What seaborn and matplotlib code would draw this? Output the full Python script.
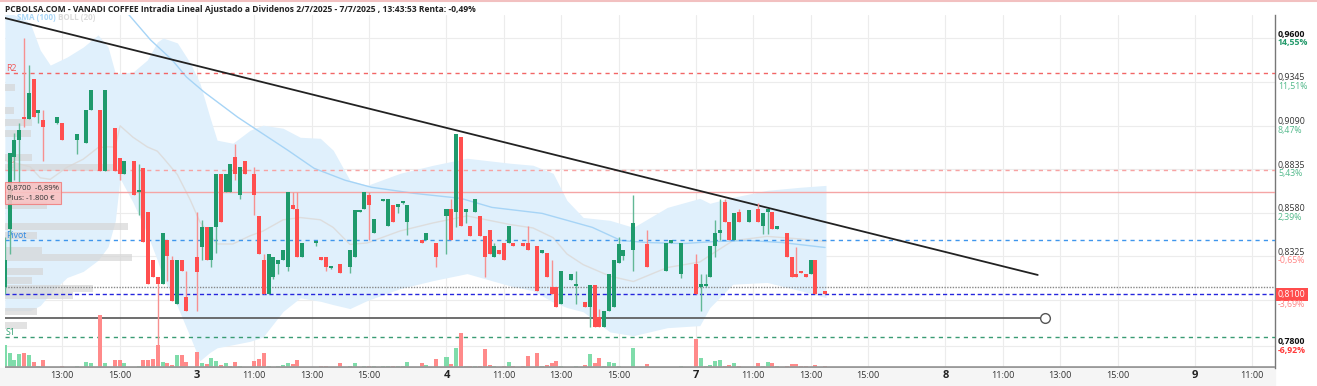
import matplotlib
matplotlib.use("Agg")
import matplotlib.pyplot as plt
import matplotlib.transforms as mtrans
import seaborn as sns
import numpy as np
import pandas as pd

# ---------------- data ----------------
c_time = ["2/7 11:00","2/7 11:10","2/7 11:20","2/7 11:30","2/7 11:40","2/7 11:50","2/7 12:00","2/7 12:10","2/7 12:20",
          "2/7 12:50","2/7 13:00","2/7 13:30","2/7 13:50","2/7 14:00","2/7 14:20","2/7 14:30","2/7 14:50","2/7 15:00",
          "2/7 15:10","2/7 15:30","2/7 15:40","2/7 15:50","2/7 16:00","2/7 16:10","2/7 16:20","2/7 16:30","2/7 16:40",
          "2/7 16:50","2/7 17:00","2/7 17:10","2/7 17:20",
          "3/7 9:00","3/7 9:10","3/7 9:20","3/7 9:30","3/7 9:40","3/7 9:50","3/7 10:00","3/7 10:10","3/7 10:20",
          "3/7 10:30","3/7 10:40","3/7 11:00","3/7 11:10","3/7 11:20","3/7 11:30","3/7 11:40","3/7 11:50","3/7 12:00",
          "3/7 12:10","3/7 12:20","3/7 12:30","3/7 12:40","3/7 13:10","3/7 13:20","3/7 13:30","3/7 13:40","3/7 14:00",
          "3/7 14:20","3/7 14:30","3/7 14:40","3/7 14:50","3/7 15:00","3/7 15:10","3/7 15:30","3/7 15:40","3/7 15:50",
          "3/7 16:00","3/7 16:10","3/7 16:20","3/7 16:50","3/7 17:00","3/7 17:20",
          "4/7 9:00","4/7 9:10","4/7 9:20","4/7 9:30","4/7 9:40","4/7 9:50","4/7 10:00","4/7 10:10","4/7 10:20",
          "4/7 10:30","4/7 10:40","4/7 10:50","4/7 11:00","4/7 11:10","4/7 11:20","4/7 11:40","4/7 11:50","4/7 12:10",
          "4/7 12:20","4/7 12:30","4/7 12:40","4/7 12:50","4/7 13:00","4/7 13:20","4/7 13:30","4/7 13:50","4/7 14:00",
          "4/7 14:10","4/7 14:20","4/7 14:30","4/7 14:40","4/7 14:50","4/7 15:00","4/7 15:10","4/7 15:30","4/7 16:00",
          "4/7 16:40","4/7 16:50","4/7 17:10",
          "7/7 9:00","7/7 9:10","7/7 9:20","7/7 9:30","7/7 9:40","7/7 9:50","7/7 10:00","7/7 10:10","7/7 10:20",
          "7/7 10:30","7/7 10:50","7/7 11:10","7/7 11:20","7/7 11:30","7/7 11:40","7/7 11:50","7/7 12:10","7/7 12:20",
          "7/7 12:30","7/7 12:40","7/7 12:50","7/7 13:00","7/7 13:10","7/7 13:30"]

c_open = [.8142,.8485,.8906,.9004,.9141,.9131,.9360,.9164,.9125,
          .9106,.9102,.9004,.8988,.9180,.9180,.8823,.9078,.8902,
          .8808,.8882,.8700,.8843,.8582,.8299,.8201,.8162,.8416,
          .8299,.8045,.8299,.8083,
          .8318,.8377,.8494,.8299,.8494,.8808,.8700,.8700,.8906,
          .8680,.8882,.8804,.8559,.8299,.8100,.8201,.8279,.8299,
          .8259,.8622,.8598,.8322,.8400,.8322,.8322,.8255,.8279,
          .8259,.8322,.8582,.8602,.8681,.8459,.8645,.8500,.8622,
          .8615,.8638,.8524,.8420,.8420,.8403,
          .8559,.8598,.8582,.9023,.8582,.8498,.8582,.8559,.8440,
          .8479,.8322,.8361,.8403,.8403,.8403,.8403,.8403,.8381,
          .8342,.8342,.8142,.8142,.8044,.8185,.8150,.8058,.8024,
          .8158,.7966,.7907,.8001,.8024,.8283,.8328,.8361,.8397,
          .8240,.8403,.8220,
          .8279,.8142,.8150,.8201,.8381,.8460,.8641,.8524,.8420,
          .8582,.8524,.8602,.8498,.8582,.8582,.8485,.8459,.8322,
          .8220,.8240,.8220,.8220,.8299,.8118]

c_high = [.8436,.8926,.9045,.9102,.9600,.9444,.9360,.9180,.9180,
          .9141,.9102,.9039,.9180,.9301,.9180,.9301,.9078,.8902,
          .8882,.8882,.8866,.8843,.8582,.8299,.8201,.8459,.8416,
          .8328,.8299,.8299,.8240,
          .8582,.8534,.8494,.8494,.8808,.8808,.8808,.8863,.8984,
          .8847,.8882,.8847,.8559,.8338,.8338,.8322,.8299,.8361,
          .8700,.8700,.8700,.8403,.8410,.8322,.8322,.8262,.8279,
          .8361,.8596,.8596,.8700,.8700,.8543,.8655,.8658,.8622,
          .8625,.8650,.8622,.8420,.8459,.8403,
          .8598,.8661,.9039,.9023,.8598,.8498,.8658,.8559,.8440,
          .8479,.8403,.8361,.8403,.8498,.8403,.8403,.8498,.8381,
          .8361,.8342,.8299,.8142,.8240,.8220,.8240,.8058,.8158,
          .8158,.8015,.8001,.8220,.8299,.8436,.8361,.8680,.8479,
          .8400,.8420,.8400,
          .8338,.8220,.8220,.8381,.8538,.8661,.8661,.8524,.8577,
          .8600,.8596,.8635,.8577,.8598,.8582,.8498,.8459,.8322,
          .8377,.8240,.8220,.8299,.8299,.8118]

c_low = [.8103,.8338,.8769,.8749,.9082,.9131,.9141,.9102,.8882,
         .9100,.9004,.8921,.8988,.9180,.8823,.8823,.8823,.8769,
         .8808,.8681,.8563,.8406,.8162,.8201,.7805,.8162,.8181,
         .8064,.8045,.8240,.8005,
         .8005,.8299,.8299,.8260,.8340,.8524,.8700,.8700,.8769,
         .8661,.8804,.8563,.8338,.8100,.8100,.8190,.8220,.8299,
         .8240,.8602,.8322,.8322,.8385,.8299,.8240,.8250,.8224,
         .8224,.8322,.8582,.8602,.8416,.8459,.8645,.8500,.8524,
         .8580,.8630,.8446,.8403,.8420,.8259,
         .8338,.8420,.8494,.8498,.8518,.8440,.8582,.8440,.8201,
         .8338,.8322,.8338,.8299,.8403,.8381,.8381,.8361,.8120,
         .8342,.8201,.8100,.8024,.8044,.8185,.8045,.8024,.7907,
         .7907,.7907,.7907,.8001,.8024,.8283,.8299,.8240,.8259,
         .8240,.8403,.8197,
         .8100,.8001,.8142,.8201,.8322,.8416,.8524,.8420,.8420,
         .8524,.8524,.8524,.8455,.8455,.8485,.8485,.8322,.8201,
         .8201,.8224,.8201,.8220,.8100,.8100]

c_close = [.8299,.8926,.9004,.9062,.9126,.9278,.9141,.9180,.9082,
           .9141,.9004,.9039,.9180,.9301,.8823,.9301,.8823,.8808,
           .8882,.8681,.8705,.8406,.8162,.8201,.8162,.8459,.8328,
           .8064,.8299,.8240,.8005,
           .8230,.8494,.8299,.8494,.8808,.8524,.8808,.8863,.8808,
           .8847,.8804,.8681,.8338,.8100,.8338,.8322,.8299,.8361,
           .8700,.8602,.8322,.8403,.8405,.8299,.8259,.8260,.8224,
           .8361,.8596,.8596,.8700,.8622,.8543,.8655,.8658,.8524,
           .8620,.8645,.8622,.8403,.8459,.8322,
           .8598,.8420,.9039,.8498,.8598,.8440,.8658,.8440,.8322,
           .8338,.8381,.8338,.8299,.8498,.8381,.8381,.8361,.8120,
           .8361,.8201,.8100,.8024,.8240,.8220,.8155,.8024,.8158,
           .7907,.7907,.8001,.8220,.8299,.8397,.8361,.8518,.8259,
           .8400,.8420,.8400,
           .8100,.8162,.8160,.8381,.8459,.8475,.8524,.8420,.8577,
           .8524,.8596,.8524,.8577,.8598,.8485,.8498,.8322,.8201,
           .8201,.8224,.8201,.8299,.8100,.8100]

c_vol = [23,15,8,14,15,13,6,2,8,
         1,2,2,6,5,53,5,8,8,
         5,1,2,8,8,9,23,6,5,
         3,13,13,6,
         16,5,4,10,7,3,5,2,6,
         2,1,7,9,15,2,1,2,3,
         5,4,8,1,1,2,2,1,5,
         2,5,1,2,2,2,2,2,2,
         2,2,6,5,3,9,
         11,4,20,35,2,2,2,2,19,
         3,2,1,2,6,2,2,12,15,
         2,3,5,7,2,1,2,3,14,
         5,10,2,6,5,2,1,20,4,
         1,1,2,
         29,10,2,3,7,8,2,3,5,
         2,1,5,2,6,5,2,2,4,
         4,2,2,1,3,2]

band_time = ["2/7 11:00","2/7 11:53","2/7 12:14","2/7 12:35","2/7 13:10","2/7 13:44","2/7 14:15","2/7 14:36",
             "2/7 14:51","2/7 15:01","2/7 15:28","2/7 15:58","2/7 16:19","2/7 16:31","2/7 17:01","2/7 17:28",
             "3/7 9:06","3/7 9:27","3/7 9:42","3/7 10:15","3/7 10:51","3/7 11:18","3/7 12:00","3/7 12:36",
             "3/7 13:18","3/7 13:45","3/7 14:20","3/7 14:56","3/7 16:05","3/7 17:14",
             "4/7 9:43","4/7 11:13","4/7 12:01","4/7 12:43","4/7 13:12","4/7 13:46","4/7 14:42","4/7 15:31","4/7 16:42",
             "7/7 9:08","7/7 9:29","7/7 10:17","7/7 11:29","7/7 12:38","7/7 13:32"]
band_upper = [.9767,.9691,.9532,.9444,.9491,.9550,.9621,.9550,
              .9397,.9397,.9403,.9474,.9579,.9603,.9574,.9456,
              .9339,.9139,.9004,.8986,.9062,.9092,.9074,.9021,
              .9015,.8945,.8769,.8739,.8810,.8857,
              .8898,.8869,.8857,.8810,.8651,.8551,.8534,.8493,.8610,
              .8663,.8634,.8669,.8710,.8728,.8739]
band_lower = [.8005,.8005,.8035,.8105,.8199,.8235,.8300,.8380,
              .8530,.8780,.8640,.8455,.8300,.8200,.8030,.7850,
              .7711,.7760,.7787,.7805,.7825,.7850,.8000,.8080,
              .8060,.8040,.8017,.8064,.8134,.8181,
              .8222,.8150,.8122,.8055,.8023,.7998,.7880,.7858,.7905,
              .7917,.8023,.8160,.8170,.8122,.8081]

sma_time = ["2/7 15:10","2/7 16:05","2/7 16:50","2/7 17:20","3/7 9:15","3/7 10:25","3/7 11:00","3/7 12:10",
            "3/7 13:05","3/7 14:10","3/7 15:05","3/7 16:35","4/7 9:30","4/7 10:35","4/7 12:20","4/7 14:05",
            "4/7 15:05","4/7 16:00","4/7 17:15","7/7 9:40","7/7 10:50","7/7 12:00","7/7 13:30"]
sma_val = [.9770,.9591,.9474,.9374,.9286,.9139,.9074,.8945,
           .8839,.8769,.8728,.8692,.8663,.8610,.8575,.8493,
           .8416,.8404,.8398,.8410,.8416,.8404,.8375]

prof_price = [.9315,.9180,.9110,.9045,.8904,.8845,.8620,.8500,.8445,.8357,.8316,.8234,.8181,.8134,.8093,.7999,.7917]
prof_vol = [10,9,27,26,27,110,42,123,32,37,127,38,27,88,68,32,22]

levels = {"R2": .9400, "R1": .8829, "Pivot": .8419, "S1": .7849}
entry_price = .8700
current_price = .8100
dotted_level = .8145
support_line = .7960
support_end = "8/7 12:28"
trend_start, trend_start_val = "2/7 11:00", .9720
trend_end, trend_end_val = "8/7 12:13", .8214

ytick_vals = [.9600, .9345, .9090, .8835, .8580, .8325, .8070, .7800]
ytick_txt = ["0,9600", "0,9345", "0,9090", "0,8835", "0,8580", "0,8325", None, "0,7800"]
ytick_pct = ["14,55%", "11,51%", "8,47%", "5,43%", "2,39%", "-0,65%", None, "-6,92%"]

title = "PCBOLSA.COM - VANADI COFFEE Intradia Lineal Ajustado a Dividenos 2/7/2025 - 7/7/2025 , 13:43:53 Renta: -0,49%"

# ---------------- helpers ----------------
DAYS = {"2/7": 0, "3/7": 1, "4/7": 2, "7/7": 3, "8/7": 4, "9/7": 5}
DAY_LEN = 8.7

def tpos(s):
    d, hm = s.split()
    h, m = hm.split(":")
    return DAYS[d] * DAY_LEN + int(h) - 9 + int(m) / 60.0

sns.set_theme(style="white")
plt.rcParams['font.family'] = ['Open Sans', 'DejaVu Sans']

W, H = 1317, 386
fig = plt.figure(figsize=(W / 100, H / 100), dpi=100)
fig.patch.set_facecolor("white")
ax = fig.add_axes([5 / W, 18 / H, 1270 / W, 353 / H])
ax.set_facecolor("white")

def off(dx, dy):
    return mtrans.ScaledTranslation(dx / 100.0, dy / 100.0, fig.dpi_scale_trans)

XL, XR = 2.005, 46.29
YB, YT = 0.76686, 0.97377

df = pd.DataFrame({"t": [tpos(s) for s in c_time], "o": c_open, "h": c_high,
                   "l": c_low, "c": c_close, "v": c_vol})
df["up"] = df["c"] >= df["o"]

# grid
grid_x = []
for d in range(6):
    for hh in (0, 2, 4, 6):
        grid_x.append(d * DAY_LEN + hh)
for gx in grid_x:
    if XL < gx < XR:
        ax.axvline(gx, color="#ececec", lw=0.8, zorder=0)
for gy in ytick_vals:
    ax.axhline(gy, color="#ececec", lw=0.8, zorder=0)

# bollinger band
bt = [tpos(s) for s in band_time]
ax.fill_between(bt, band_lower, band_upper, color="#e0f0fc", lw=0, zorder=1)
mid = (np.array(band_upper) + np.array(band_lower)) / 2
sns.lineplot(x=bt, y=mid, ax=ax, color="#dddddd", lw=1, sort=False, estimator=None, zorder=2)
sns.lineplot(x=[tpos(s) for s in sma_time], y=sma_val, ax=ax, color="#a6d4f6", lw=1,
             sort=False, estimator=None, zorder=2)

# volume profile
px_per_h = 249.5 / DAY_LEN
ax.barh(prof_price, np.array(prof_vol) / px_per_h, left=XL, height=0.0042,
        color="#d6d6d6", alpha=0.7, lw=0, zorder=3)

# horizontal levels
ax.axhline(levels["R2"], color="#f26666", lw=1, ls=(0, (3, 3)), zorder=4)
ax.axhline(levels["R1"], color="#f7a3a3", lw=1, ls=(0, (3, 3)), zorder=4)
ax.axhline(entry_price, color="#f5a5a5", lw=1, zorder=4)
ax.axhline(levels["Pivot"], color="#3f96ec", lw=1, ls=(0, (3, 3)), zorder=4)
ax.axhline(dotted_level, color="#888888", lw=1, ls=(0, (1, 1)), zorder=4)
ax.axhline(current_price, color="#2626dd", lw=1, ls=(0, (3, 2)), zorder=4)
ax.axhline(levels["S1"], color="#3a9c74", lw=1, ls=(0, (3, 3)), zorder=4)

# support line and trend line
se = tpos(support_end)
ax.plot([XL, se], [support_line, support_line], color="#555555", lw=1.2, zorder=5)
ax.plot([se], [support_line], marker="o", ms=7, mfc="white", mec="#555555", mew=1, zorder=6)
ax.plot([tpos(trend_start), tpos(trend_end)], [trend_start_val, trend_end_val],
        color="#222222", lw=1.3, zorder=5)

# candles
GREEN, RED = "#1f9a6c", "#ff4f4f"
cols = np.where(df["up"], GREEN, RED)
wick_cols = np.where(df["up"], "#62b896", "#f79090")
ax.vlines(df["t"], df["l"], df["h"], colors=wick_cols, lw=1, zorder=7)
body_lo = np.minimum(df["o"], df["c"])
body_h = np.maximum(np.abs(df["c"] - df["o"]), 0.0012)
ax.bar(df["t"], body_h, bottom=body_lo, width=0.14, color=cols, lw=0, zorder=8)

ax.set_xlim(XL, XR)
ax.set_ylim(YB, YT)
ax.set_xticks([])
ax.set_yticks([])
for s in ax.spines.values():
    s.set_visible(False)
ax.spines["right"].set_visible(True)
ax.spines["right"].set_color("#777777")
ax.spines["right"].set_linewidth(1)

# volume axis
ax2 = fig.add_axes([5 / W, 18 / H, 1270 / W, 353 / H])
ax2.patch.set_alpha(0)
vcols = np.where(df["up"], "#7fdcaa", "#ff8a8a")
ax2.bar(df["t"], df["v"], width=0.14, color=vcols, lw=0)
ax2.set_xlim(XL, XR)
ax2.set_ylim(0, 353)
ax2.axis("off")
ax2.axhline(0.8, color="#9a9a9a", lw=2)

# x axis band and labels
fig.patches.append(plt.Rectangle((0, 0), 1275 / W, 18 / H, transform=fig.transFigure,
                                 color="#f5f5f5", zorder=-1))
tr_x = mtrans.blended_transform_factory(ax.transData, ax.transAxes) + off(0, -8)
for d, name in enumerate(["2", "3", "4", "7", "8", "9"]):
    for hh, lab in ((0, name), (2, "11:00"), (4, "13:00"), (6, "15:00")):
        xx = d * DAY_LEN + hh
        if XL + 0.3 < xx < XR:
            if hh == 0:
                ax.text(xx, 0, lab, transform=tr_x, ha="center", va="center",
                        fontsize=8, fontweight="bold", color="#222222")
            else:
                ax.text(xx, 0, lab, transform=tr_x, ha="center", va="center",
                        fontsize=6.6, color="#333333")

# y labels
tr_num = mtrans.blended_transform_factory(ax.transAxes, ax.transData) + off(3, 4)
tr_pct = mtrans.blended_transform_factory(ax.transAxes, ax.transData) + off(3, -4.5)
for i, (v, t, p) in enumerate(zip(ytick_vals, ytick_txt, ytick_pct)):
    if t is None:
        continue
    bold = i in (0, len(ytick_vals) - 1)
    ax.text(1, v, t, transform=tr_num, ha="left", va="center", fontsize=6.3,
            color="#111111" if bold else "#333333", fontweight="bold" if bold else "normal")
    neg = p.startswith("-")
    if bold:
        pc = "#ff3b3b" if neg else "#22996a"
    else:
        pc = "#ff8585" if neg else "#52b98b"
    ax.text(1, v, p, transform=tr_pct, ha="left", va="center", fontsize=6.3,
            color=pc, fontweight="bold" if bold else "normal")

tr_cur = mtrans.blended_transform_factory(ax.transAxes, ax.transData) + off(3, 0)
ax.text(1, current_price, "0,8100", transform=tr_cur, ha="left", va="center", fontsize=6.3,
        color="white", bbox=dict(boxstyle="square,pad=0.25", fc="#ff4c4c", ec="none"))
ax.text(1, current_price, "-3,69%", transform=tr_cur + off(0, -10), ha="left", va="center",
        fontsize=6.3, color="#ff8585")

# level labels
tr_lab = mtrans.blended_transform_factory(ax.transAxes, ax.transData) + off(1, 4.5)
ax.text(0, levels["R2"], "R2", transform=tr_lab, fontsize=6.3, color="#f25555", va="center")
ax.text(0, levels["R1"], "R1", transform=tr_lab, fontsize=6.3, color="#f47c7c", va="center")
ax.text(0, levels["Pivot"], "Pivot", transform=tr_lab, fontsize=6.3, color="#2f8ae5", va="center")
ax.text(0, levels["S1"], "S1", transform=tr_lab, fontsize=6.3, color="#2e9e6e", va="center")

# position box
tr_box = mtrans.blended_transform_factory(ax.transAxes, ax.transData) + off(2, 0)
ax.text(0, 0.8694, "0,8700  -6,89%\nPlus: -1.800 €", transform=tr_box, fontsize=5.6,
        color="#333333", va="center", ha="left", linespacing=1.6, zorder=10,
        bbox=dict(boxstyle="square,pad=0.3", fc="#f9c2c2", ec="#f08080", lw=0.8, alpha=0.9))

# indicator legend
fig.text(17 / W, 1 - 18 / H, "SMA (100)", fontsize=5.8, fontweight="bold", color="#a9d6f7", va="center")
fig.text(58 / W, 1 - 18 / H, "BOLL (20)", fontsize=5.8, fontweight="bold", color="#dadada", va="center")

# title
fig.text(5 / W, 1 - 10 / H, title, fontsize=6.1, fontweight="bold", color="#222222", va="center")
fig.lines.append(plt.Line2D([0, 1], [1 - 0.5 / H, 1 - 0.5 / H], transform=fig.transFigure,
                            color="#f2c0c0", lw=1.5))

fig.savefig("out.png", dpi=100)
